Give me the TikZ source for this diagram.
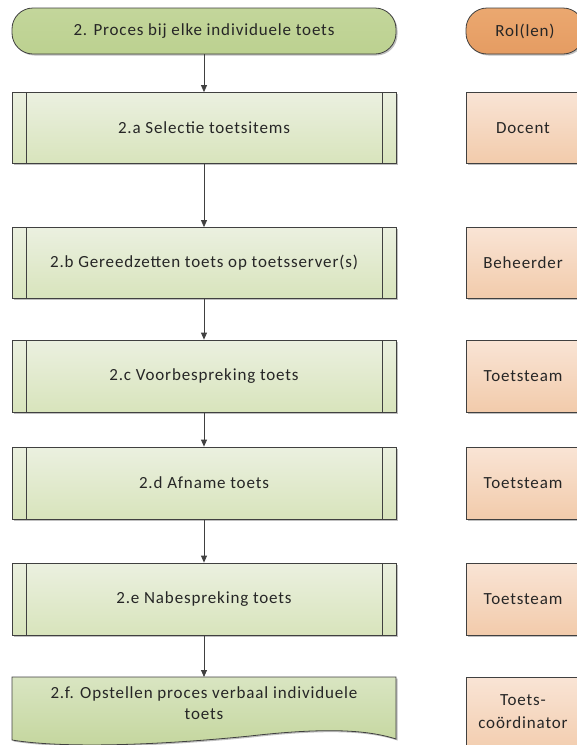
\documentclass[tikz,border=0pt]{standalone}
\usepackage{fontspec}
\setmainfont{Carlito}[LetterSpace=5]
\usetikzlibrary{arrows.meta,shadows}
\definecolor{lineC}{HTML}{404040}
\definecolor{txtC}{HTML}{262626}
\definecolor{termG}{HTML}{C3D69B}
\definecolor{termGb}{HTML}{BCD190}
\definecolor{termO}{HTML}{EBA870}
\definecolor{termOb}{HTML}{E59C62}
\definecolor{procT}{HTML}{EBF0E0}
\definecolor{procB}{HTML}{D8E4BC}
\definecolor{roleT}{HTML}{F9E4D5}
\definecolor{roleB}{HTML}{F2CBAB}
\definecolor{docT}{HTML}{D9E5C2}
\definecolor{docB}{HTML}{C4D69D}
\begin{document}
\begin{tikzpicture}[x=1pt,y=-1pt,font=\fontsize{17}{21}\selectfont,text=txtC,
  base/.style={draw=lineC,line width=0.8pt,
    drop shadow={shadow xshift=1.5pt,shadow yshift=-1.5pt,opacity=0.25,fill=black}},
  term/.style={base,rounded corners=21pt,minimum height=46pt},
  proc/.style={base,minimum width=384pt,minimum height=71pt,
    top color=procT,bottom color=procB,
    path picture={\draw[lineC,line width=0.8pt]
      ([xshift=14pt]path picture bounding box.north west) -- ([xshift=14pt]path picture bounding box.south west)
      ([xshift=-14pt]path picture bounding box.north east) -- ([xshift=-14pt]path picture bounding box.south east);}},
  role/.style={base,minimum width=114pt,minimum height=71pt,top color=roleT,bottom color=roleB,align=center},
  arr/.style={draw=lineC,line width=0.8pt,-{Triangle[length=7pt,width=6pt]}}]
\useasboundingbox (0,0) rectangle (577,745);
\clip (0,0) rectangle (577,745);
% left column
\node[term,minimum width=384pt,top color=termG,bottom color=termGb] (s) at (204,31) {2. Proces bij elke individuele toets};
\node[proc] (a) at (204,128) {2.a Selectie toetsitems};
\node[proc] (b) at (204,263) {2.b Gereedzetten toets op toetsserver(s)};
\node[proc,minimum height=72pt] (c) at (204,376) {2.c Voorbespreking toets};
\node[proc,minimum height=72pt] (d) at (204,483) {2.d Afname toets};
\node[proc,minimum height=72pt] (e) at (204,599) {2.e Nabespreking toets};
% document shape
\path[base,top color=docT,bottom color=docB] (12,677) -- (396,677) -- (396,739)
  .. controls (365,729) and (320,728) .. (250,736)
  .. controls (150,746) and (60,748) .. (12,740) -- cycle;
\node[align=center,minimum width=384pt,minimum height=52pt,anchor=north,inner sep=0pt] (f) at (204,677)
  {2.f. Opstellen proces verbaal individuele\\toets};
% right column
\node[term,minimum width=118pt,top color=termO,bottom color=termOb] (r) at (525,31) {Rol(len)};
\node[role] (ra) at (523,128) {Docent};
\node[role] (rb) at (523,263) {Beheerder};
\node[role,minimum height=72pt] (rc) at (523,376) {Toetsteam};
\node[role,minimum height=72pt] (rd) at (523,483) {Toetsteam};
\node[role,minimum height=72pt] (re) at (523,599) {Toetsteam};
\node[role,minimum height=80pt,anchor=north] (rf) at (523,677) {};
\node[align=center,anchor=north,font=\fontsize{17}{23}\selectfont] (rft) at (523,691) {Toets-\\coördinator};
% connectors
\draw[arr] (s) -- (a);
\draw[arr] (a) -- (b);
\draw[arr] (b) -- (c);
\draw[arr] (c) -- (d);
\draw[arr] (d) -- (e);
\draw[arr] (e) -- (f.north);
\end{tikzpicture}
\end{document}
